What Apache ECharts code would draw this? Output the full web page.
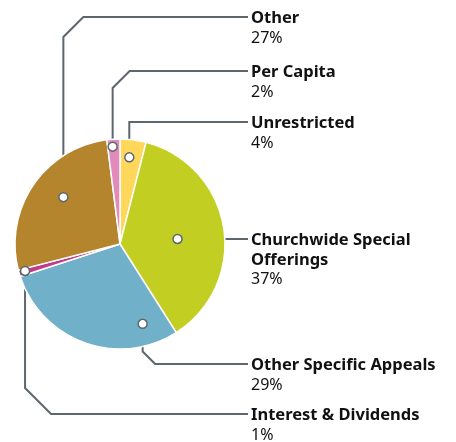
<!DOCTYPE html>
<html><head><meta charset="utf-8">
<script src="https://cdn.jsdelivr.net/npm/echarts@6/dist/echarts.min.js"></script>
<style>html,body{margin:0;padding:0;background:#fff}#c{width:456px;height:442px}</style>
</head><body><div id="c"></div>
<script>
const categories = ['Unrestricted', 'Churchwide Special Offerings', 'Other Specific Appeals', 'Interest & Dividends', 'Other', 'Per Capita'];
const displayNames = ['Unrestricted', 'Churchwide Special\nOfferings', 'Other Specific Appeals', 'Interest & Dividends', 'Other', 'Per Capita'];
const values = [4, 37, 29, 1, 27, 2];
const colors = ['#FFD75A', '#C3CE23', '#70B0C9', '#C43A8F', '#B5852E', '#E28BBB'];

// annotation anchors (leader-line dot inside each slice, on the 0-100 pie scale)
const dotRadius = [0.83, 0.55, 0.79, 0.94, 0.70, 0.93];
const dotAngle = [1.7, 23.6, 45.6, 70.6, 86.0, 98.8];
const labelLineY = [122, null, 364, 414, 17, 71];
const chamfer = [0, 0, 12.5, 26, 20, 17];

const CX = 120, CY = 244, R = 105, LINE_END = 248, LABEL_X = 251;
const lineColor = '#5E666E';

function dotPixel(i) {
  const a = (90 - dotAngle[i] / 100 * 360) * Math.PI / 180;
  return [CX + dotRadius[i] * R * Math.cos(a), CY - dotRadius[i] * R * Math.sin(a)];
}

const chart = echarts.init(document.getElementById('c'), null, {renderer: 'canvas'});
chart.setOption({
  animation: false,
  polar: {center: [CX, CY], radius: R},
  angleAxis: {type: 'value', min: 0, max: 100, startAngle: 90, clockwise: true, show: false},
  radiusAxis: {type: 'value', min: 0, max: 1, show: false},
  series: [
    {
      type: 'pie',
      center: [CX, CY],
      radius: R,
      startAngle: 90,
      clockwise: true,
      avoidLabelOverlap: false,
      silent: true,
      z: 2,
      itemStyle: {borderColor: '#fff', borderWidth: 1.5},
      data: categories.map((c, i) => ({name: c, value: values[i], itemStyle: {color: colors[i]}})),
      label: {
        show: true,
        position: 'outside',
        formatter: p => displayNames[p.dataIndex].split('\n').map(s => '{n|' + s + '}').join('\n') + '\n{p|' + p.value + '%}',
        rich: {
          n: {fontFamily: 'Noto Sans', fontWeight: 'bold', fontSize: 16.5, lineHeight: 19.5, color: '#111'},
          p: {fontFamily: 'Noto Sans', fontWeight: 'normal', fontSize: 16, lineHeight: 19.5, color: '#111'}
        }
      },
      labelLine: {show: true, lineStyle: {color: lineColor, width: 2}},
      labelLayout: function (params) {
        const i = params.dataIndex;
        const [dx, dy] = dotPixel(i);
        const ly = labelLineY[i] == null ? dy : labelLineY[i];
        const ch = chamfer[i];
        let pts;
        if (labelLineY[i] == null) {
          pts = [[dx, dy], [LINE_END, dy]];
        } else if (ly < dy) {
          pts = [[dx, dy], [dx, ly + ch], [dx + ch, ly], [LINE_END, ly]];
        } else {
          pts = [[dx, dy], [dx, ly - ch], [dx + ch, ly], [LINE_END, ly]];
        }
        return {x: LABEL_X, y: ly - 8, align: 'left', verticalAlign: 'top', labelLinePoints: pts, hideOverlap: false};
      }
    },
    {
      type: 'scatter',
      coordinateSystem: 'polar',
      silent: true,
      z: 10,
      symbol: 'circle',
      symbolSize: 9,
      itemStyle: {color: '#fff', borderColor: lineColor, borderWidth: 1.5, opacity: 1},
      data: categories.map((c, i) => [dotRadius[i], dotAngle[i]])
    }
  ]
});
</script></body></html>
